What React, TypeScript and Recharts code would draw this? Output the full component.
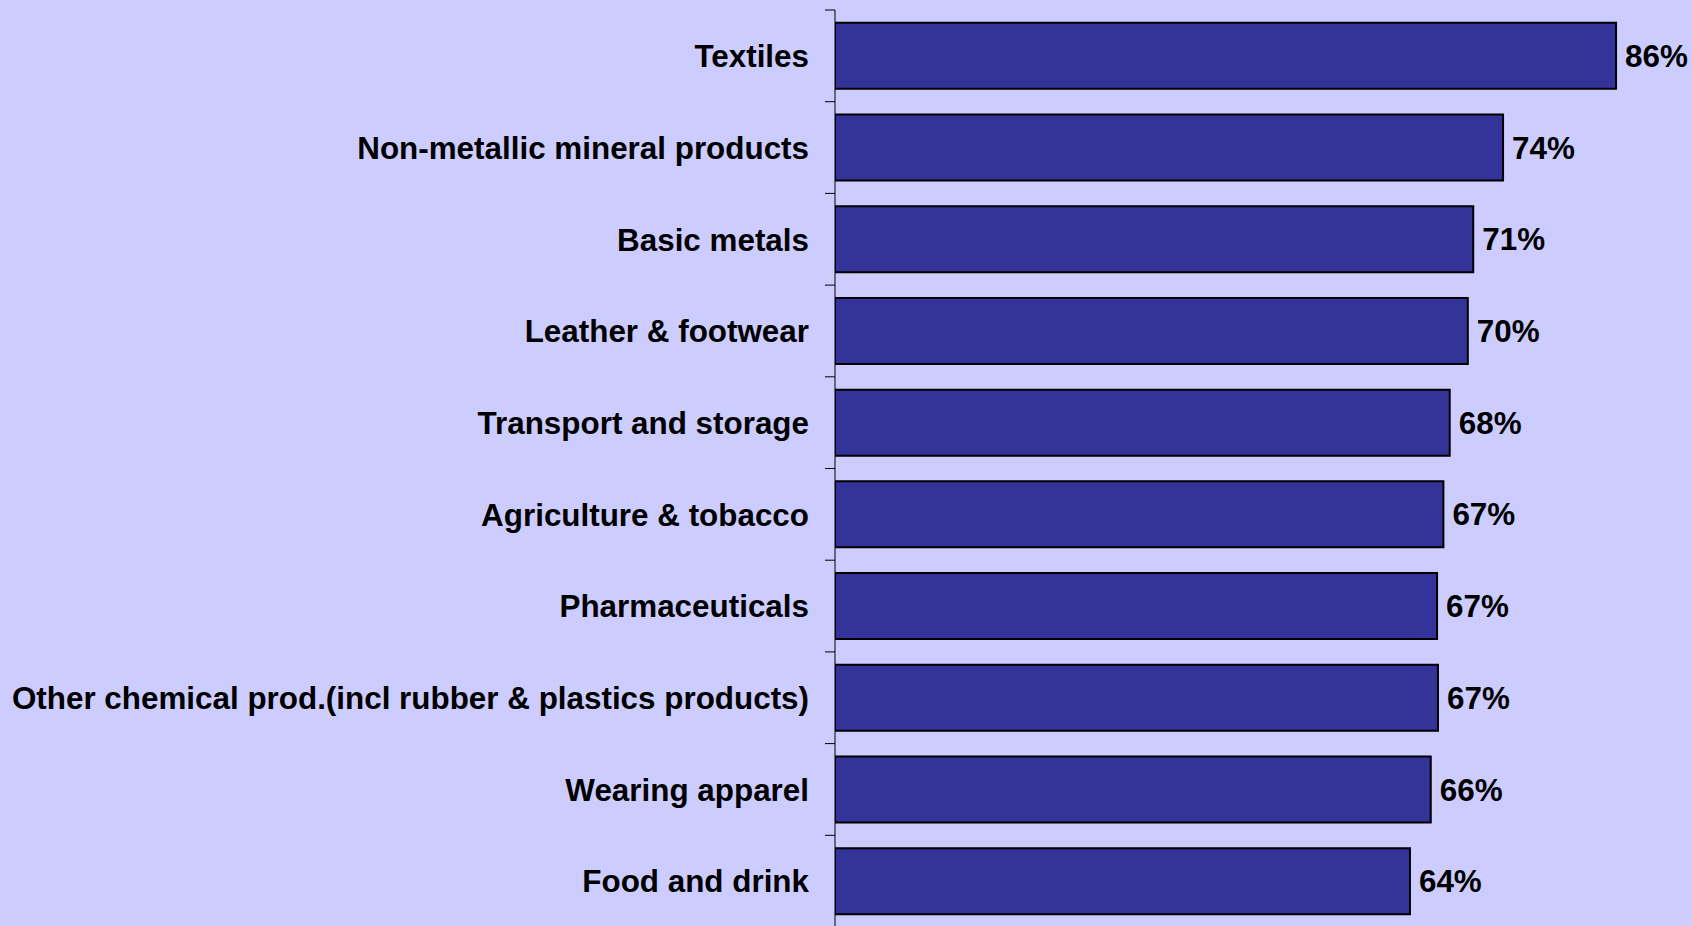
import { Bar, BarChart, LabelList, XAxis, YAxis } from "recharts"

const sectors = [
  "Textiles",
  "Non-metallic mineral products",
  "Basic metals",
  "Leather & footwear",
  "Transport and storage",
  "Agriculture & tobacco",
  "Pharmaceuticals",
  "Other chemical prod.(incl rubber & plastics products)",
  "Wearing apparel",
  "Food and drink",
]

const shares = [86.4, 73.9, 70.6, 70.0, 68.0, 67.3, 66.6, 66.7, 65.9, 63.6]

const data = sectors.map((sector, i) => ({ sector, share: shares[i] }))

const FONT = "'Liberation Sans', Arial, sans-serif"

// category label plus a small tick on the band boundary (Excel style)
function SectorTick(props: any) {
  const { x, y, payload, index, visibleTicksCount } = props
  const half = payload?.offset ?? 0
  const axisX = x + 26
  return (
    <g>
      <text
        x={x}
        y={y}
        dy="0.36em"
        textAnchor="end"
        fontFamily={FONT}
        fontWeight="bold"
        fontSize={31.4}
        fill="#000"
      >
        {payload.value}
      </text>
      <line x1={axisX - 10} x2={axisX} y1={y - half} y2={y - half} stroke="#000" strokeWidth={1} />
      {index === visibleTicksCount - 1 && (
        <line x1={axisX - 10} x2={axisX} y1={y + half} y2={y + half} stroke="#000" strokeWidth={1} />
      )}
    </g>
  )
}

export default function App() {
  return (
    <div
      style={{
        position: "fixed",
        left: 0,
        top: 0,
        width: 1692,
        height: 926,
        overflow: "hidden",
        background: "#CCCCFF",
      }}
    >
      <BarChart
        width={1692}
        height={940}
        data={data}
        layout="vertical"
        margin={{ top: 10, right: 0, bottom: 13, left: 0 }}
        barCategoryGap="14%"
      >
        <XAxis type="number" domain={[0, 94.8]} hide allowDataOverflow />
        <YAxis
          type="category"
          dataKey="sector"
          width={835}
          tickSize={10}
          tickMargin={16}
          tickLine={false}
          axisLine={{ stroke: "#000", strokeWidth: 1 }}
          tick={<SectorTick />}
          interval={0}
        />
        <Bar dataKey="share" fill="#333399" stroke="#000" strokeWidth={2} isAnimationActive={false}>
          <LabelList
            dataKey="share"
            position="right"
            offset={9}
            formatter={(v: any) => `${Math.round(Number(v))}%`}
            style={{ fontFamily: FONT, fontWeight: "bold", fontSize: 31.4, fill: "#000" }}
          />
        </Bar>
      </BarChart>
    </div>
  )
}
